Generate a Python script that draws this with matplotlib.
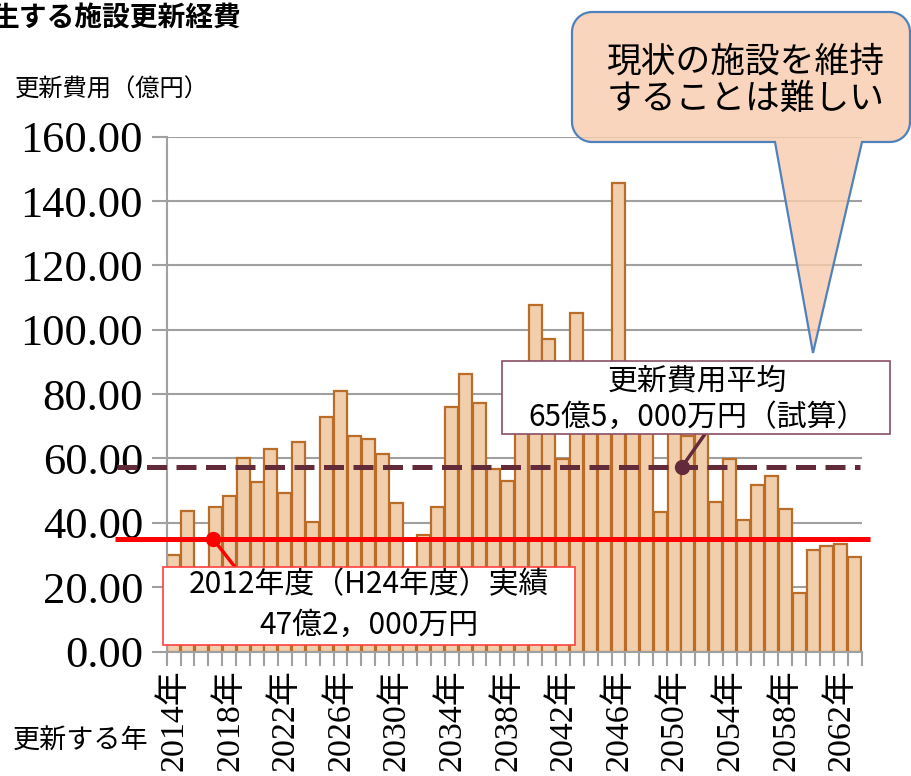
import numpy as np
import matplotlib.pyplot as plt
from matplotlib.patches import Rectangle, Polygon

plt.rcParams['font.family'] = ['Noto Sans CJK JP', 'DejaVu Sans']

#%% Data

years = list(range(2014, 2064))
costs = [30.0, 43.7, 22.0, 45.0, 48.3, 60.2, 52.8, 63.0, 49.4, 65.2,
         40.3, 72.8, 81.0, 67.0, 65.9, 61.4, 46.0, 15.0, 36.2, 45.0,
         76.1, 86.1, 77.3, 56.6, 53.0, 85.0, 107.6, 97.0, 59.8, 105.1,
         82.0, 88.0, 145.5, 86.0, 80.0, 43.4, 74.0, 67.0, 72.0, 46.5,
         59.8, 40.9, 51.7, 54.5, 44.2, 18.3, 31.5, 32.9, 33.4, 29.5]
label_years = years[::4]
yticks = [0, 20, 40, 60, 80, 100, 120, 140, 160]
actual_level = 35.0    # 2012年度実績
average_level = 57.4   # 更新費用平均

W, H = 912, 776
GRAY = '#A0A0A0'


def fx(px):
    return px / W


def fy(py):
    return 1 - py / H


def to_data(px):
    # position horizontale pixel -> coordonnée de catégorie
    return (px - 166.7) / 13.9 - 0.5


#%% Figure

fig = plt.figure(figsize=(W / 100, H / 100), dpi=100)
ax = fig.add_axes([fx(166.7), fy(651.5), fx(861.7) - fx(166.7), fy(136.7) - fy(651.5)])

x = np.arange(len(years))
ax.bar(x, costs, width=0.94, color='#F2CFAC', edgecolor='#B96D28', linewidth=1.6, zorder=2)

ax.set_xlim(-0.5, len(years) - 0.5)
ax.set_ylim(0, 160)
ax.set_yticks(yticks)
ax.set_yticklabels([f"{v:.2f}" for v in yticks], family=['Liberation Serif'], fontsize=32)
ax.yaxis.grid(True, color=GRAY, lw=1.5)
ax.set_axisbelow(True)
ax.tick_params(axis='y', length=11, width=1.5, color=GRAY, pad=6)

# graduations entre catégories, libellés tous les 4 ans
ax.set_xticks(np.arange(-0.5, len(years)))
ax.set_xticklabels([])
ax.tick_params(axis='x', which='major', length=10, width=1.5, color=GRAY)
ax.set_xticks([years.index(y) for y in label_years], minor=True)
ax.set_xticklabels([f"{y}年" for y in label_years], minor=True, rotation=90,
                   family=['Liberation Serif', 'Noto Sans CJK JP'], fontsize=24.5)
ax.tick_params(axis='x', which='minor', length=0, pad=13)

for s in ['top', 'right']:
    ax.spines[s].set_visible(False)
for s in ['left', 'bottom']:
    ax.spines[s].set_color(GRAY)
    ax.spines[s].set_linewidth(1.5)

# lignes de référence
ax.plot([to_data(115), to_data(870)], [actual_level, actual_level], color='#FF0000', lw=3.6,
        clip_on=False, zorder=4, solid_capstyle='butt')
ax.plot([to_data(117), to_data(860)], [average_level, average_level], color='#632A3A', lw=3.6,
        linestyle=(0, (4, 1.9)), clip_on=False, zorder=4)

# points + connecteurs vers les encadrés
ax.plot(to_data(213), actual_level, 'o', color='#FF0000', ms=10, zorder=5, clip_on=False)
ax.annotate('', xy=(to_data(213), actual_level), xytext=(235, H - 567), textcoords='figure pixels',
            arrowprops=dict(arrowstyle='-', color='#FF0000', lw=2.5, shrinkA=0, shrinkB=0), zorder=5)
ax.plot(to_data(682), average_level, 'o', color='#632A3A', ms=10, zorder=5, clip_on=False)
ax.annotate('', xy=(to_data(682), average_level), xytext=(705, H - 434), textcoords='figure pixels',
            arrowprops=dict(arrowstyle='-', color='#632A3A', lw=2.5, shrinkA=0, shrinkB=0), zorder=5)

# encadrés
fig.patches.append(Rectangle((fx(163), fy(645)), fx(575) - fx(163), fy(567) - fy(645),
                             transform=fig.transFigure, facecolor='white', edgecolor='#FF4040', lw=1.2))
fig.text(fx(369), fy(585), "2012年度（H24年度）実績", ha='center', va='center', fontsize=21.5)
fig.text(fx(369), fy(625), "47億2，000万円", ha='center', va='center', fontsize=21.5)

fig.patches.append(Rectangle((fx(502), fy(434)), fx(890) - fx(502), fy(361) - fy(434),
                             transform=fig.transFigure, facecolor='white', edgecolor='#8B4F66', lw=1.2))
fig.text(fx(697), fy(381), "更新費用平均", ha='center', va='center', fontsize=21.5)
fig.text(fx(698), fy(417), "65億5，000万円（試算）", ha='center', va='center', fontsize=21.5)

# bulle
r = 20
pts = []
def arc(cx, cy, a0, a1):
    for a in np.linspace(np.radians(a0), np.radians(a1), 12):
        pts.append((cx + r * np.cos(a), cy + r * np.sin(a)))
arc(592, 32, 180, 270)
arc(890, 32, 270, 360)
arc(890, 122, 0, 90)
pts += [(862, 142), (813, 353), (775, 142)]
arc(592, 122, 90, 180)
fig.patches.append(Polygon([(fx(a), fy(b)) for a, b in pts], closed=True, transform=fig.transFigure,
                           facecolor=(0.97, 0.80, 0.68, 0.82), edgecolor='#4F81BD', lw=1.6))
fig.text(fx(746), fy(62), "現状の施設を維持", ha='center', va='center', fontsize=25)
fig.text(fx(746), fy(99), "することは難しい", ha='center', va='center', fontsize=25)

# titres
fig.text(fx(-9), fy(18), "生する施設更新経費", ha='left', va='center', fontsize=20, fontweight='bold')
fig.text(fx(15), fy(90), "更新費用（億円）", ha='left', va='center', fontsize=17.5)
fig.text(fx(13), fy(740), "更新する年", ha='left', va='center', fontsize=19.5)

fig.savefig('out.png', dpi=100)
